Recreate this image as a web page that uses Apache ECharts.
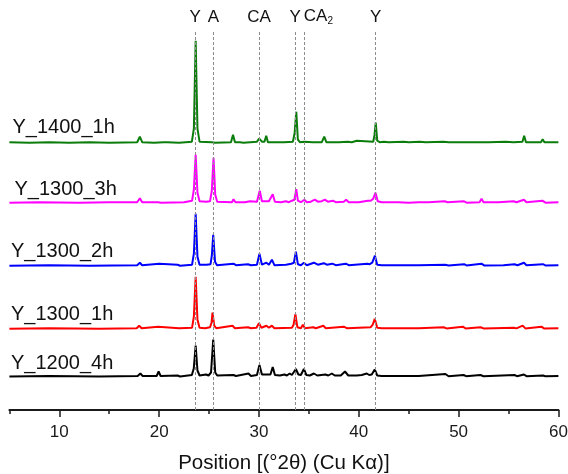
<!DOCTYPE html>
<html>
<head>
<meta charset="utf-8">
<script src="https://cdn.jsdelivr.net/npm/echarts@6/dist/echarts.min.js"></script>
<style>
  html, body { margin: 0; padding: 0; background: #fff; }
  #chart { width: 568px; height: 474px; }
</style>
</head>
<body>
<div id="chart"></div>
<script>
// sample names, bottom to top
var sampleNames = ['Y_1200_4h', 'Y_1300_1h', 'Y_1300_2h', 'Y_1300_3h', 'Y_1400_1h'];

// tick labels of the 2theta axis (every 5 deg, numbers only every 10)
var tickLabels = ['5', '10', '15', '20', '25', '30', '35', '40', '45', '50', '55', '60'];

// phase reference lines: label and 2theta
var phaseNames = ['Y', 'A', 'CA', 'Y', 'CA2', 'Y'];
var phasePos = [23.6, 25.43, 30.0, 33.62, 34.55, 41.7];

// diffractograms, [2theta, intensity] (arb. units)
var y1200_4h = [
  [5,0],[9,0.5],[14,0],[17.85,0.5],[18.12,3],[18.35,0.5],[19.75,0.5],[19.95,5],[20.15,0.5],[21.85,1],[22.1,0],
  [23.28,1.5],[23.47,8],[23.66,31],[23.84,6],[24.05,1],[24.7,2],[24.95,1],[25.2,4],[25.42,37],[25.62,4],[25.82,1],
  [27.45,1.5],[27.7,0.5],[28.95,3],[29.2,0.5],[29.8,1.5],[30.05,11.5],[30.3,2],[30.8,2],[31.15,2],[31.38,9.5],
  [31.6,1.5],[32.1,1],[32.55,2],[32.8,1],[33.08,3],[33.3,1.5],[33.7,7.5],[33.95,2],[34.2,1.5],[34.5,7.5],
  [34.75,1.5],[35.1,1],[35.5,3],[35.85,1],[36.65,2],[36.95,1],[37.3,3],[37.6,1],[38.2,1],[38.62,5],[38.95,1],
  [39.8,1],[40.3,1.5],[40.8,3],[41.05,1.5],[41.3,2],[41.6,7],[41.85,1],[42.3,0.5],[44,0.5],[46,0.5],
  [48.68,2.5],[49,0.3],[50.5,1.5],[50.75,0.3],[52.2,1.5],[52.5,0.3],[55.6,1.5],[55.85,0.3],[56.55,2],
  [56.8,0.3],[58.45,1],[58.7,0.3],[60,0.5]
];
var y1300_1h = [
  [5,0],[9,0.5],[14,0],[17.75,0.5],[18.0,3],[18.25,0.5],[19.9,2],[20.1,0],[22,0.5],[23.3,1],[23.48,12],
  [23.66,52],[23.84,9],[24.05,1],[24.6,0.5],[25.1,1.5],[25.25,6],[25.35,16],[25.52,3],[25.72,0.5],[27.35,3],
  [27.6,0.5],[28.9,1.5],[29.2,0.5],[29.75,1],[30.0,5.5],[30.25,1],[30.75,3],[31.0,1],[31.3,3],[31.55,0.5],
  [33.3,1],[33.47,4],[33.65,14.5],[33.85,1.5],[34.2,0.5],[34.4,4],[34.6,0.5],[35.45,1.5],[35.7,0.5],
  [36.45,3],[36.7,0.5],[38.5,2],[38.8,0.5],[41.2,1.5],[41.4,4],[41.6,10],[41.85,1],[42.3,0.5],[44,0.5],
  [46,0.5],[48.5,1.5],[48.8,0.3],[50.42,2],[50.7,0.3],[52.2,1.5],[52.5,0.3],[55.55,1],[55.8,0.3],
  [56.42,3],[56.7,0.3],[58.3,2],[58.55,0.3],[60,0.5]
];
var y1300_2h = [
  [5,0],[9,0.5],[13,0],[17.8,0.5],[18.07,3],[18.3,0.5],[20.0,2],[20.2,0],[21.85,1],[22.1,0],[23.3,1],
  [23.48,12],[23.66,52],[23.84,9],[24.05,1],[24.75,1],[25.15,1.5],[25.28,10],[25.42,31],[25.6,4],[25.8,0.5],
  [27.45,2],[27.7,0.5],[28.9,1.5],[29.2,0.5],[29.8,1],[30.05,12],[30.3,1],[30.75,3],[31.0,1],[31.3,6],
  [31.55,0.5],[32.7,1],[33.25,2],[33.5,3],[33.7,14],[33.9,1.5],[34.2,0.5],[34.5,3],[34.8,0.5],[35.5,3],
  [35.9,1],[36.5,2.5],[36.8,1],[37.35,2],[37.7,0.5],[38.7,2],[39,0.5],[40.85,2],[41.1,1.5],[41.35,3],
  [41.62,10],[41.85,1],[42.3,0.5],[44,0.5],[46,0.5],[48.65,1],[49,0.3],[50.55,1.5],[50.8,0.3],[52.3,2],
  [52.55,0.3],[54.5,0.5],[55.6,1.5],[55.9,0.5],[56.55,3],[56.8,0.5],[58.45,1.5],[58.7,0.3],[60,0.5]
];
var y1300_3h = [
  [5,0],[8,0.5],[12,0],[15,0.5],[17.8,0.5],[18.07,4.5],[18.3,0.5],[19.9,0.5],[20.05,1.5],[20.2,0],[22.5,0.5],
  [23.3,2],[23.48,13],[23.66,48],[23.84,10],[24.05,1.5],[24.7,1],[25.1,1.5],[25.28,12],[25.45,45],[25.62,8],
  [25.82,1],[27.3,0.5],[27.45,3.5],[27.65,0.5],[28.6,0.5],[29.1,1.5],[29.3,0.5],[29.8,1],[30.08,12],
  [30.3,1.5],[30.6,1.5],[30.8,3],[31.0,1.5],[31.2,1.5],[31.38,8.5],[31.6,1],[32.2,0.5],[32.7,1.5],[33.0,0.5],
  [33.3,2],[33.45,4],[33.55,3],[33.74,13.5],[33.9,2],[34.2,0.5],[34.55,3],[34.8,0.5],[35.2,1],[35.6,3],
  [35.9,1],[36.3,1.5],[36.6,3],[36.9,1],[37.4,2],[37.7,0.5],[38.5,1],[38.73,3],[39,0.5],[40,0.5],[40.9,2],
  [41.2,2],[41.45,4],[41.68,10],[41.9,1.5],[42.3,0.5],[43,0.5],[44,0.5],[45,0],[46,0.5],[47,0.5],[48.6,1.5],
  [48.9,0.5],[50.5,1.5],[50.8,0],[52.1,0.5],[52.3,4],[52.5,0.5],[54,0.5],[55.5,1.5],[55.8,0.5],[56.55,3],
  [56.8,0.5],[58.4,2],[58.7,0],[60,0.5]
];
var y1400_1h = [
  [5,0.5],[7,0],[9,0.5],[11,0],[13,0.5],[15,0],[17.8,0.5],[18.07,6],[18.3,0.5],[19.5,0],[20.45,0.5],
  [20.6,2.5],[20.8,0.5],[22,0],[23.28,1],[23.48,14],[23.66,102],[23.84,14],[24.05,1],[25.3,0.5],[25.47,1.5],
  [25.6,0],[27.2,0.5],[27.4,8],[27.6,0.5],[28.1,0.5],[28.3,2],[28.45,0],[29.8,1],[30.03,4],[30.3,1],
  [30.55,1],[30.73,7],[30.9,0.5],[32.5,0.5],[33.4,1],[33.58,10],[33.74,31],[33.9,3],[34.1,0.5],[34.5,1],
  [35.4,0.5],[36.3,0.5],[36.54,6],[36.75,0.5],[38,0.5],[38.9,1],[39.1,3],[39.3,0.5],[39.8,2],[40,0.5],
  [41.45,1],[41.58,8],[41.7,20],[41.85,2],[42.1,0.5],[42.5,1],[43,0.5],[44.5,1],[45,0.5],[46.1,1],
  [46.7,0.5],[48.5,1],[49,0.5],[50.35,0.5],[50.5,2.5],[50.7,0.5],[53,0.5],[54.7,1],[55.5,0.5],[56.4,1],
  [56.57,7],[56.75,0.5],[58.25,0.5],[58.42,3.5],[58.6,0.5],[60,0.5]
];

var samples = [y1200_4h, y1300_1h, y1300_2h, y1300_3h, y1400_1h];
var colors = ['#000000', '#ff0000', '#0000ff', '#ff00ff', '#0b7d0b'];
// vertical stacking offsets of each trace
var offsets = [33.5, 81.3, 144.3, 207.3, 267.3];
// where the sample names sit (pixels)
var namePos = [[11, 363], [11, 314], [11, 251], [14.5, 189], [12.5, 127]];

var chart = echarts.init(document.getElementById('chart'));
var font = '"Liberation Sans", Arial, sans-serif';

var series = samples.map(function (pts, i) {
  return {
    name: sampleNames[i],
    type: 'line',
    showSymbol: false,
    silent: true,
    animation: false,
    z: 3,
    lineStyle: { color: colors[i], width: 2 },
    data: pts.map(function (p) { return [p[0], p[1] + offsets[i]]; })
  };
});

series[0].markLine = {
  silent: true,
  symbol: 'none',
  animation: false,
  lineStyle: { color: '#8c8c8c', type: [3, 2], width: 1 },
  label: {
    position: 'end',
    distance: 4,
    color: '#111',
    fontSize: 17,
    fontFamily: font,
    formatter: function (p) { return p.name; }
  },
  data: phaseNames.map(function (n, i) {
    var item = { name: n, xAxis: phasePos[i] };
    if (n === 'CA2') {
      item.label = {
        formatter: '{a|CA}{b|2}',
        offset: [14, 0],
        rich: {
          a: { fontSize: 17, fontFamily: font, color: '#111' },
          b: { fontSize: 10, fontFamily: font, color: '#111', verticalAlign: 'bottom', padding: [9, 0, 0, 0] }
        }
      };
    }
    return item;
  })
};

chart.setOption({
  animation: false,
  backgroundColor: '#fff',
  grid: { left: 9.4, right: 9.6, top: 30, bottom: 64, outerBoundsMode: 'none' },
  xAxis: [{
    type: 'value',
    min: 5,
    max: 60,
    interval: 5,
    position: 'bottom',
    axisLine: { lineStyle: { color: '#1a1a1a', width: 2 } },
    axisTick: { length: 4, lineStyle: { color: '#1a1a1a', width: 1.5 } },
    splitLine: { show: false },
    axisLabel: {
      margin: 14,
      color: '#1a1a1a',
      fontSize: 17,
      fontFamily: font,
      formatter: function (v) { return v % 10 === 0 ? String(v) : ''; }
    },
    name: 'Position [(°2θ) (Cu Kα)]',
    nameLocation: 'middle',
    nameGap: 43,
    nameTextStyle: { color: '#111', fontSize: 20.5, fontFamily: font }
  }, {
    // second axis only for the longer major ticks at 10, 20, ...
    type: 'category',
    data: tickLabels,
    boundaryGap: false,
    position: 'bottom',
    axisLine: { show: false },
    axisTick: {
      length: 7,
      lineStyle: { color: '#1a1a1a', width: 1.5 },
      interval: function (idx) { return idx % 2 === 1; }
    },
    axisLabel: { show: false },
    splitLine: { show: false }
  }],
  yAxis: { type: 'value', min: 0, max: 380, show: false },
  graphic: sampleNames.map(function (n, i) {
    return {
      type: 'text',
      x: namePos[i][0],
      y: namePos[i][1],
      style: { text: n, font: '20px ' + font, fill: '#111', verticalAlign: 'middle' }
    };
  }),
  series: series
});
</script>
</body>
</html>
